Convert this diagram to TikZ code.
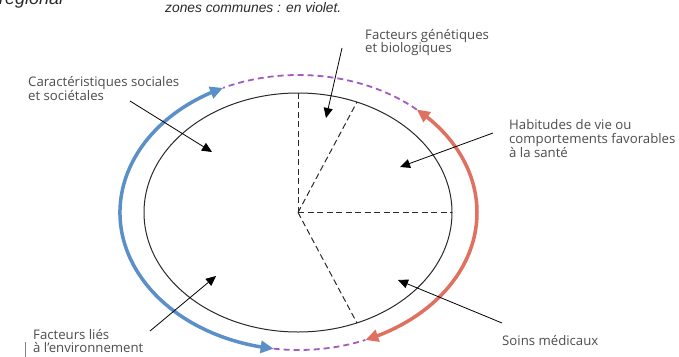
\documentclass[tikz,border=0pt]{standalone}
\usepackage{fontspec}
\setmainfont{Open Sans}
\newfontfamily\titlefont{Liberation Sans}
\usetikzlibrary{arrows.meta,calc,bending}
\definecolor{arcblue}{HTML}{5B8FC8}
\definecolor{arcred}{HTML}{E0705F}
\definecolor{arcpurple}{HTML}{A25CC0}
\definecolor{lblgray}{HTML}{4D4D4D}
\definecolor{inkgray}{HTML}{2A2A2A}
\begin{document}
\begin{tikzpicture}[x=1pt,y=-1pt,
  lbl/.style={anchor=base west,inner sep=0pt,text=lblgray,font=\fontsize{13.2}{14}\selectfont},
  ttl/.style={anchor=base west,inner sep=0pt,text=inkgray,font=\titlefont\itshape\fontsize{13.8}{16}\selectfont},
  pointer/.style={draw=black,line width=0.8pt,-{Triangle[length=10pt,width=9pt]}},
  bluearc/.style={draw=arcblue,line width=3.5pt,{Triangle[length=13pt,width=12pt]}-{Triangle[length=13pt,width=12pt]}},
  redarc/.style={draw=arcred,line width=3.5pt,{Triangle[length=13pt,width=12pt]}-{Triangle[length=13pt,width=12pt]}},
  purplearc/.style={draw=arcpurple,line width=1.8pt,dash pattern=on 6pt off 4pt},
  spoke/.style={draw=inkgray,line width=1pt,dash pattern=on 6pt off 3.5pt},
  rim/.style={draw=inkgray,line width=1pt}
]
\clip (0,0) rectangle (679,356);
\fill[white] (0,0) rectangle (679,356);

% titles
\node[ttl,font=\titlefont\itshape\fontsize{18}{20}\selectfont] (reg) at (-1,5) {régional};
\node[ttl] (title) at (165,12.5) {zones communes : en violet.};

% centres
\coordinate (O) at (298.5,212.5);
\coordinate (C) at (298,212.5);

% inner ellipse
\draw[rim] (C) ellipse [x radius=154pt, y radius=119.5pt];

% spokes
\coordinate (s1) at ($(C)+(90:154pt and 119.5pt)$);
\coordinate (s2) at ($(C)+(67.5:154pt and 119.5pt)$);
\coordinate (s3) at ($(C)+(0:154pt and 119.5pt)$);
\coordinate (s4) at ($(C)+(-67.5:154pt and 119.5pt)$);
\draw[spoke] (C) -- (s1);
\draw[spoke] (C) -- (s2);
\draw[spoke] (C) -- (s3);
\draw[spoke] (C) -- (s4);

% outer arcs
\coordinate (bt) at ($(O)+(115:178.5pt and 137.5pt)$);
\coordinate (bb) at ($(O)+(262:178.5pt and 137.5pt)$);
\coordinate (rt) at ($(O)+(48.5:178.5pt and 137.5pt)$);
\coordinate (rb) at ($(O)+(-68:178.5pt and 137.5pt)$);
\draw[purplearc] (rt) arc[start angle=48.5, end angle=115, x radius=178.5pt, y radius=137.5pt];
\draw[purplearc] (bb) arc[start angle=262, end angle=292, x radius=178.5pt, y radius=137.5pt];
\draw[bluearc] (bt) arc[start angle=115, end angle=262, x radius=178.5pt, y radius=137.5pt];
\draw[redarc] (rt) arc[start angle=48.5, end angle=-68, x radius=178.5pt, y radius=137.5pt];

% labels
\node[lbl] (car1) at (28,86.5) {Caractéristiques sociales};
\node[lbl] (car2) at (28,100) {et sociétales};
\node[lbl] (gen1) at (365,39) {Facteurs génétiques};
\node[lbl] (gen2) at (365,52.5) {et biologiques};
\node[lbl] (hab1) at (509,129) {Habitudes de vie ou};
\node[lbl] (hab2) at (509,143) {comportements favorables};
\node[lbl] (hab3) at (509,157) {à la santé};
\node[lbl] (soi) at (502,345) {Soins médicaux};
\node[lbl] (env1) at (33,339) {Facteurs liés};
\node[lbl] (env2) at (33,352.5) {à l'environnement};
\coordinate (bar1) at (25,342);
\coordinate (bar2) at (25,358);
\draw[lblgray!70,line width=0.6pt] (bar1) -- (bar2);

% pointers
\coordinate (p1s) at (130,101); \coordinate (p1e) at (212,152);
\coordinate (p2s) at (342,48);  \coordinate (p2e) at (326,118);
\coordinate (p3s) at (493,133); \coordinate (p3e) at (400,167);
\coordinate (p4s) at (502,323); \coordinate (p4e) at (398,280);
\coordinate (p5s) at (150,331); \coordinate (p5e) at (216,276);
\draw[pointer] (p1s) -- (p1e);
\draw[pointer] (p2s) -- (p2e);
\draw[pointer] (p3s) -- (p3e);
\draw[pointer] (p4s) -- (p4e);
\draw[pointer] (p5s) -- (p5e);
\end{tikzpicture}
\end{document}
